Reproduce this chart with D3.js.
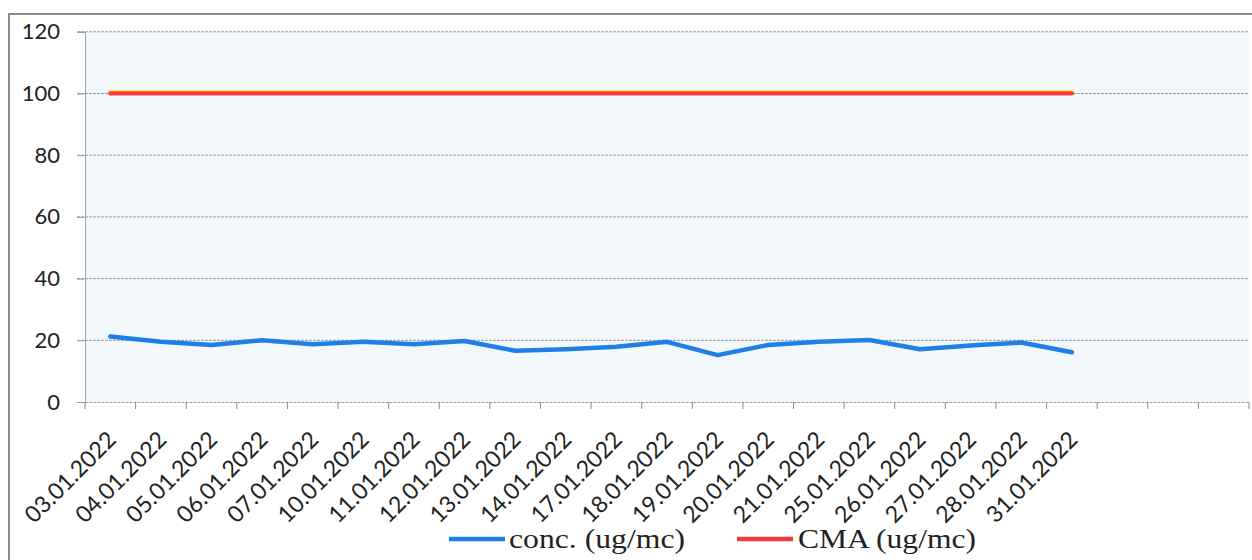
<!DOCTYPE html>
<html><head><meta charset="utf-8">
<script src="https://cdn.jsdelivr.net/npm/d3@7/dist/d3.min.js"></script>
<style>html,body{margin:0;padding:0;background:#fff;}svg{display:block;}</style>
</head><body>
<svg id="c" width="1252" height="560"></svg>
<script>
const dates = ["03.01.2022","04.01.2022","05.01.2022","06.01.2022","07.01.2022","10.01.2022","11.01.2022","12.01.2022","13.01.2022","14.01.2022","17.01.2022","18.01.2022","19.01.2022","20.01.2022","21.01.2022","25.01.2022","26.01.2022","27.01.2022","28.01.2022","31.01.2022"];
const emptySlots = ["e1","e2","e3"];
const conc = [21.2,19.5,18.5,20.0,18.7,19.5,18.7,19.8,16.6,17.1,17.9,19.5,15.2,18.5,19.5,20.1,17.1,18.3,19.3,16.1];
const cma = [100,100,100,100,100,100,100,100,100,100,100,100,100,100,100,100,100,100,100,100];
const yTicks = [0,20,40,60,80,100,120];
const seriesNames = ["conc. (ug/mc)","CMA (ug/mc)"];

const svg = d3.select("#c");
const L = 85, R = 1249, T = 31.8, B = 402;
const sans = "Lato,'Liberation Sans',Arial,sans-serif";

// outer frame
svg.append("path").attr("d","M9,560 L9,14 L1252,14").attr("fill","none").attr("stroke","#8a8a8a").attr("stroke-width",2);

const x = d3.scaleBand().domain(dates.concat(emptySlots)).range([L,R]);
const y = d3.scaleLinear().domain([0,120]).range([B,T]);

svg.append("rect").attr("x",L).attr("y",T).attr("width",R-L).attr("height",B-T).attr("fill","#f3f8fc");

// gridlines
svg.append("g").selectAll("line").data(yTicks.filter(d=>d>0)).join("line")
  .attr("x1",L-8).attr("x2",R).attr("y1",d=>y(d)).attr("y2",d=>y(d))
  .attr("stroke","#9a9a9a").attr("stroke-width",1).attr("stroke-dasharray","3,1");

// y axis
const ya = svg.append("g").attr("transform",`translate(${L},0)`)
  .call(d3.axisLeft(y).tickValues(yTicks).tickSize(8).tickPadding(17));
ya.select(".domain").attr("stroke","#a0a0a0");
ya.selectAll(".tick line").attr("stroke","#9a9a9a");
ya.selectAll("text").attr("font-family",sans).attr("font-size",22).attr("fill","#222");

// x axis
const xa = svg.append("g").attr("transform",`translate(0,${B})`)
  .call(d3.axisBottom(x).tickSize(0).tickFormat(d=>dates.includes(d)?d:""));
xa.select(".domain").attr("stroke","#8aa8a0").attr("stroke-dasharray","3,1");
xa.selectAll("text").attr("font-family",sans).attr("font-size",23).attr("fill","#222")
  .attr("text-anchor","end").attr("dy",0)
  .attr("transform","translate(5,37) rotate(-45)");
// category boundary tick marks
const bounds = x.domain().map(d=>x(d)).concat([R]);
svg.append("g").selectAll("line").data(bounds).join("line")
  .attr("x1",d=>d).attr("x2",d=>d).attr("y1",B).attr("y2",B+7)
  .attr("stroke","#8a8a8a").attr("stroke-width",1);

const cx = d => x(d)+x.bandwidth()/2;
const line = d3.line().x((d,i)=>cx(dates[i])).y(d=>y(d));

// CMA line (yellowish edge + red)
svg.append("path").datum(cma).attr("d",line).attr("fill","none")
  .attr("stroke","#f5d020").attr("stroke-width",4).attr("stroke-linecap","round").attr("transform","translate(0,-1.2)");
svg.append("path").datum(cma).attr("d",line).attr("fill","none")
  .attr("stroke","#f23a3f").attr("stroke-width",4.2).attr("stroke-linecap","round");
// conc line
svg.append("path").datum(conc).attr("d",line).attr("fill","none")
  .attr("stroke","#1f7fe6").attr("stroke-width",4.5).attr("stroke-linejoin","round").attr("stroke-linecap","round");

// legend
const leg = [{name:seriesNames[0],color:"#1f7fe6",x:449,tx:509,w:176},{name:seriesNames[1],color:"#f23a3f",x:737,tx:798,w:178}];
const lg = svg.append("g");
lg.selectAll("line").data(leg).join("line")
  .attr("x1",d=>d.x).attr("x2",d=>d.x+56).attr("y1",539).attr("y2",539)
  .attr("stroke",d=>d.color).attr("stroke-width",4.5);
lg.selectAll("text").data(leg).join("text")
  .attr("x",d=>d.tx).attr("y",548).text(d=>d.name)
  .attr("font-family","'Liberation Serif','Times New Roman',serif").attr("font-size",27).attr("fill","#222")
  .attr("textLength",d=>d.w).attr("lengthAdjust","spacingAndGlyphs");
</script>
</body></html>
